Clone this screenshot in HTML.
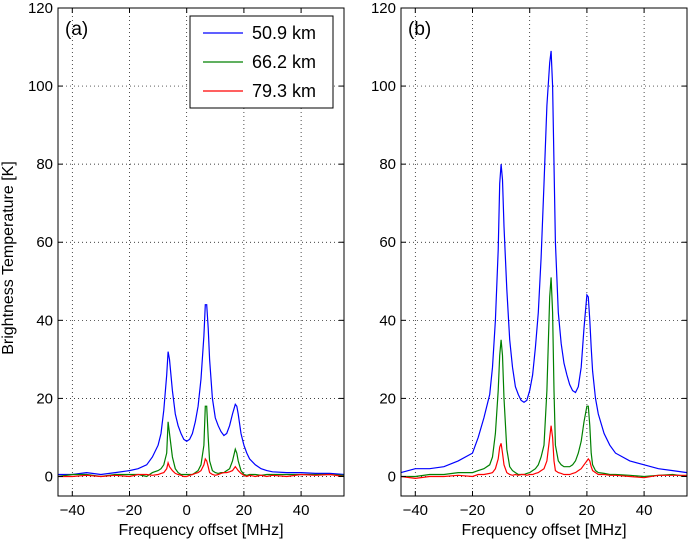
<!DOCTYPE html>
<html><head><meta charset="utf-8"><style>
body{margin:0;background:#fff}
svg{display:block;font-family:"Liberation Sans","DejaVu Sans",sans-serif}
</style></head><body>
<svg id="c" width="689" height="540" xmlns="http://www.w3.org/2000/svg"></svg>
<script>
const freqA=[-45,-40,-35,-30,-25,-20,-17,-14,-12,-10,-9,-8,-7,-6.5,-6,-5,-4,-3,-2,-1,0,1,2,3,4,5,6,6.5,7,7.5,8,9,10,11,12,13,14,15,16,17,17.5,18,19,20,21,22,24,26,28,30,35,40,45,50,55];
const blueA=[0.5,0.5,1,0.5,1,1.5,2,3,5,8,11,17,26,32,30,22,16,13,11,9.5,9,9.5,11,14,18,25,36,44,44,38,30,20,15,13,11.5,10.5,11,13,16,18.5,18,16,11,8,6,4.5,3,2,1.5,1.2,1,1,0.8,0.8,0.5];
const greenA=[0,0.5,0.5,0,0.5,0.5,0.5,0,1,1.5,2,3,6,14,11,5,2,1,0.5,0.5,0.5,0.5,0.5,1,1.5,3,8,18,18,10,4,1.5,1,0.8,1,1,1.5,2,4,7,6,4,1.5,0.5,0.3,0.5,0.5,0.3,0.5,0.5,0.5,0.5,0.5,0.5,0.3];
const redA=[0,0,0.3,0,0.3,0,0.5,0.5,0.3,0.5,0.8,1,2,3.5,2.5,1.5,0.8,0.5,0.3,0,0,0.3,0.5,0.8,1,1.5,3,4.5,4,2.5,1,0.5,0.3,0.5,0.8,1,1,1.2,1.5,2.5,2,1.5,0.8,0.3,0,0.3,0,0.3,0,0.3,0,0.5,0.3,0.5,0];
const freqB=[-45,-40,-35,-30,-25,-20,-18,-16,-14,-13,-12,-11,-10.5,-10,-9.5,-9,-8,-7,-6,-5,-4,-3,-2,-1,0,1,2,3,4,5,6,7,7.5,8,8.5,9,10,11,12,13,14,15,16,17,18,19,20,20.5,21,21.5,22,23,24,26,28,30,35,40,45,50,55];
const blueB=[1,2,2,2.5,4,6,10,15,21,28,40,58,75,80,76,64,48,35,28,23,21,19.5,19,19.5,22,26,33,42,56,75,95,106,109,100,80,60,42,34,29,26,23.5,22,21.5,23,28,38,46.5,46,40,33,27,20,16,11,8,6,4,3,2,1.5,1];
const greenB=[0,0,0.5,0.5,1,1,1.5,2,3,5,11,22,31,35,31,20,7,2.5,1.5,1,0.5,0.5,0.5,0.8,1,1.5,2,3,5,8,22,46,51,42,22,8,4,3,2.5,2.5,2.5,3,4,6,9,14,18,18,13,6,3,1.5,1,0.8,0.5,0.5,0.3,0,0.3,0.5,0];
const redB=[0,-0.5,0,0,0.3,0,0.5,0.5,0.8,1,2,4.5,7.5,8.5,6,3,1,0.5,0.3,0.5,0.3,0.5,0.5,0.3,0.5,0.5,0.8,1,1.5,2,4,10,13,10,4,1.5,1,0.8,0.5,0.5,0.5,0.8,1,1.5,2,3,4,4.5,4,2.5,1.5,1,0.5,0.5,0.3,0.3,0,-0.3,0.3,0.3,0.3];
const xTicks=[-40,-20,0,20,40];
const yTicks=[0,20,40,60,80,100,120];
const legendLabels=["50.9 km","66.2 km","79.3 km"];
const colors=["#0000ff","#008000","#ff0000"];

const svg=document.getElementById('c');
const NS="http://www.w3.org/2000/svg";
function mk(tag,attrs,parent){const e=document.createElementNS(NS,tag);for(const k in attrs)e.setAttribute(k,attrs[k]);(parent||svg).appendChild(e);return e;}
const yTop=8,yBot=496,yMin=-5,yMax=120;
function ys(v){return yBot-(v-yMin)/(yMax-yMin)*(yBot-yTop);}

function panel(x0,x1,label,freq,series,name){
  const g=mk('g',{});
  
  
  const xs=v=>x0+(v+45)/100*(x1-x0);
  xTicks.forEach(t=>{const l=mk('line',{x1:xs(t),x2:xs(t),y1:yTop,y2:yBot,stroke:'#000','stroke-width':0.7,'stroke-dasharray':'1,3'},g);});
  yTicks.forEach(t=>{const l=mk('line',{x1:x0,x2:x1,y1:ys(t),y2:ys(t),stroke:'#000','stroke-width':0.7,'stroke-dasharray':'1,3'},g);});
  series.forEach((s,i)=>{
    const d=freq.map((f,j)=>(j?'L':'M')+xs(f).toFixed(1)+','+ys(s[j]).toFixed(1)).join('');
    const p=mk('path',{d:d,fill:'none',stroke:colors[i],'stroke-width':1.2},g);
    
    
  });
  xTicks.forEach(t=>{
    mk('line',{x1:xs(t),x2:xs(t),y1:yBot,y2:yBot-5,stroke:'#000'},g);
    mk('line',{x1:xs(t),x2:xs(t),y1:yTop,y2:yTop+5,stroke:'#000'},g);
    const tx=mk('text',{x:xs(t),y:yBot+19,'font-size':15,'text-anchor':'middle'},g);
    tx.textContent=t<0?'\u2212'+(-t):t;
    
    
  });
  yTicks.forEach(t=>{
    mk('line',{x1:x0,x2:x0+5,y1:ys(t),y2:ys(t),stroke:'#000'},g);
    mk('line',{x1:x1,x2:x1-5,y1:ys(t),y2:ys(t),stroke:'#000'},g);
    const tx=mk('text',{x:x0-5,y:ys(t)+5,'font-size':15,'text-anchor':'end'},g);
    tx.textContent=t;
    
    
  });
  const fr=mk('rect',{x:x0,y:yTop,width:x1-x0,height:yBot-yTop,fill:'none',stroke:'#000','stroke-width':1},g);
  
  
  const pl=mk('text',{x:x0+7,y:yTop+27,'font-size':19},g);
  pl.textContent=label;
  
  
  const xl=mk('text',{x:(x0+x1)/2,y:535,'font-size':16,'text-anchor':'middle'},g);
  xl.textContent='Frequency offset [MHz]';
  
  
}
panel(58,344,'(a)',freqA,[blueA,greenA,redA],'panel-a');
panel(401,687,'(b)',freqB,[blueB,greenB,redB],'panel-b');

const yl=mk('text',{x:0,y:0,'font-size':16,'text-anchor':'middle',transform:'translate(13,258) rotate(-90)'});
yl.textContent='Brightness Temperature [K]';



const lg=mk('g',{});


mk('rect',{x:190,y:16,width:143,height:92,fill:'#fff',stroke:'#000','stroke-width':1},lg);
legendLabels.forEach((lab,i)=>{
  const y=33+i*29;
  const e=mk('g',{},lg);
  
  
  mk('line',{x1:203,x2:243,y1:y,y2:y,stroke:colors[i],'stroke-width':1.2},e);
  const t=mk('text',{x:252,y:y+6,'font-size':18},e);
  t.textContent=lab;
});
</script>
</body></html>
